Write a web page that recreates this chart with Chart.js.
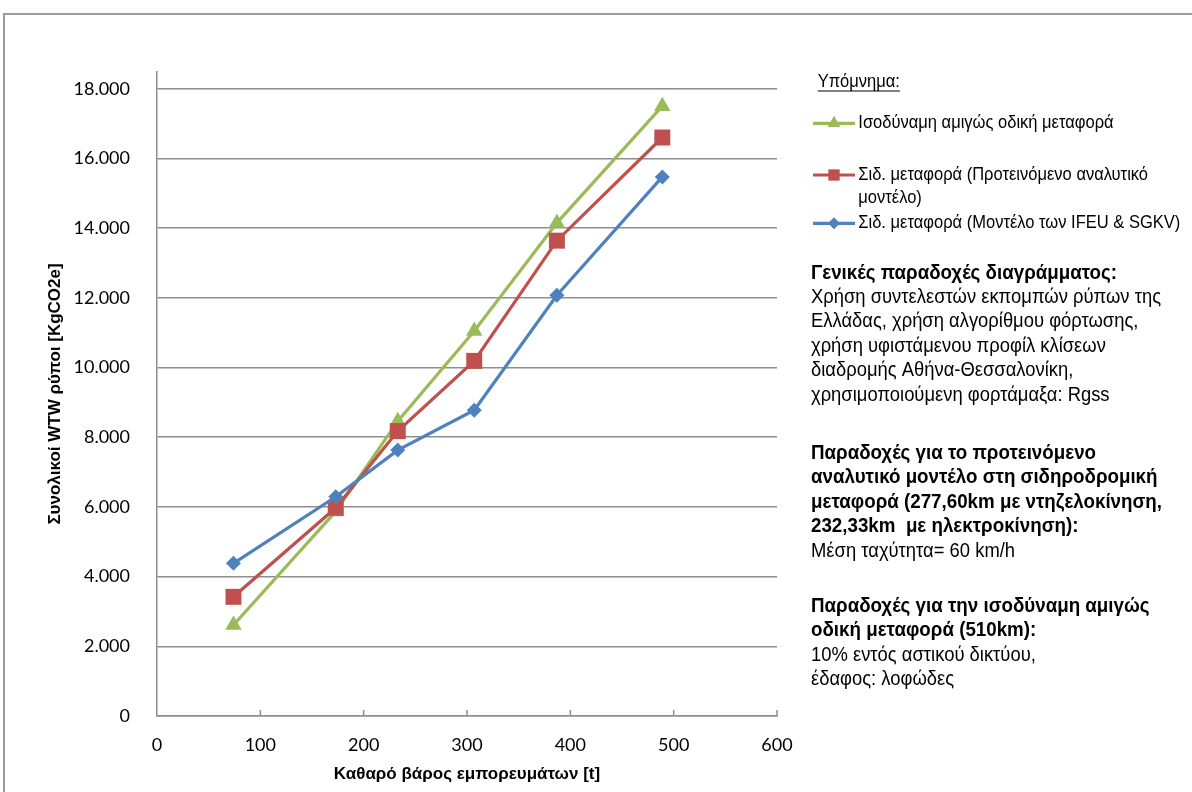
<!DOCTYPE html>
<html>
<head>
<meta charset="utf-8">
<script src="https://cdn.jsdelivr.net/npm/chart.js@4.4.1/dist/chart.umd.min.js"></script>
<style>
  html, body { margin: 0; padding: 0; background: #fff; }
  #wrap { position: relative; width: 1192px; height: 792px; overflow: hidden; }
  #frame { position: absolute; left: 3px; top: 13px; width: 1220px; height: 820px;
           border-top: 2px solid #9c9c9c; border-left: 2px solid #9c9c9c; }
  canvas { position: absolute; left: 0; top: 0; }
</style>
</head>
<body>
<div id="wrap">
  <div id="frame"></div>
  <canvas id="chart" width="1192" height="792"></canvas>
</div>
<script>
// Net cargo weight [t] for each train run
const netWeight = [74, 173, 233, 307, 387, 489];

// Total WTW emissions [KgCO2e]
const roadEquivalent = [2610, 5870, 8460, 11050, 14150, 17500];
const railProposed   = [3420, 5975, 8175, 10190, 13640, 16600];
const railIfeu       = [4380, 6290, 7630, 8775, 12075, 15470];

// Axis ticks
const xTickValues = [0, 100, 200, 300, 400, 500, 600];
const yTickValues = [0, 2000, 4000, 6000, 8000, 10000, 12000, 14000, 16000, 18000];

// Series names and how they wrap in the side legend
const seriesNames = [
  'Ισοδύναμη αμιγώς οδική μεταφορά',
  'Σιδ. μεταφορά (Προτεινόμενο αναλυτικό μοντέλο)',
  'Σιδ. μεταφορά (Μοντέλο των IFEU & SGKV)'
];
const legendLines = [
  ['Ισοδύναμη αμιγώς οδική μεταφορά'],
  ['Σιδ. μεταφορά (Προτεινόμενο αναλυτικό', 'μοντέλο)'],
  ['Σιδ. μεταφορά (Μοντέλο των IFEU & SGKV)']
];
const legendTitle = 'Υπόμνημα:';

// Notes printed under the legend
const noteBlocks = [
  { heading: ['Γενικές παραδοχές διαγράμματος:'],
    body: ['Χρήση συντελεστών εκπομπών ρύπων της',
           'Ελλάδας, χρήση αλγορίθμου φόρτωσης,',
           'χρήση υφιστάμενου προφίλ κλίσεων',
           'διαδρομής Αθήνα-Θεσσαλονίκη,',
           'χρησιμοποιούμενη φορτάμαξα: Rgss'] },
  { heading: ['Παραδοχές για το προτεινόμενο',
              'αναλυτικό μοντέλο στη σιδηροδρομική',
              'μεταφορά (277,60km με ντηζελοκίνηση,',
              '232,33km  με ηλεκτροκίνηση):'],
    body: ['Μέση ταχύτητα= 60 km/h'] },
  { heading: ['Παραδοχές για την ισοδύναμη αμιγώς',
              'οδική μεταφορά (510km):'],
    body: ['10% εντός αστικού δικτύου,',
           'έδαφος: λοφώδες'] }
];

// ---- layout of the side panel (px) ----
const PANEL_X = 811;
const legendRowY = [123.3, 175, 223.3];
const legendLineStep = 23.3;
const noteTopY = [273, 453.5, 606.5];
const noteLineStep = 24.4;
// horizontal condensing of the side text: one reference line and its drawn width per style
const legendFit = { line: legendLines[2][0], width: 322 };
const noteBodyFit = { line: noteBlocks[0].body[0], width: 350 };
const noteHeadFit = { line: noteBlocks[1].heading[2], width: 351 };

const SIDE_FONT = '"Liberation Sans", Arial, sans-serif';
const LEGEND_FONT = '18px ' + SIDE_FONT;
const NOTE_FONT = '20px ' + SIDE_FONT;
const NOTE_BOLD = 'bold 20px ' + SIDE_FONT;
const GRID = '#8e8e8e';

function squeezeFor(ctx, font, fit) {
  ctx.font = font;
  return fit.width / ctx.measureText(fit.line).width;
}

// Draws a line of text with a horizontal scale factor
function drawScaled(ctx, text, x, y, sx) {
  ctx.save();
  ctx.translate(x, y);
  ctx.scale(sx, 1);
  ctx.fillText(text, 0, 0);
  ctx.restore();
}

function drawMarker(ctx, style, x, y, r, color) {
  ctx.save();
  ctx.fillStyle = color;
  ctx.beginPath();
  if (style === 'triangle') {
    ctx.moveTo(x, y - r);
    ctx.lineTo(x + r * 0.866, y + r * 0.5);
    ctx.lineTo(x - r * 0.866, y + r * 0.5);
  } else if (style === 'rect') {
    const s = r * Math.SQRT1_2;
    ctx.rect(x - s, y - s, 2 * s, 2 * s);
  } else {
    ctx.moveTo(x, y - r);
    ctx.lineTo(x + r, y);
    ctx.lineTo(x, y + r);
    ctx.lineTo(x - r, y);
  }
  ctx.closePath();
  ctx.fill();
  ctx.restore();
}

const seriesStyles = [
  { color: '#9BBB59', pointStyle: 'triangle', radius: 9.5, legendRadius: 7.5 },
  { color: '#C0504D', pointStyle: 'rect', radius: 11.3, legendRadius: 8 },
  { color: '#4F81BD', pointStyle: 'rectRot', radius: 7.5, legendRadius: 6 }
];
const seriesValues = [roadEquivalent, railProposed, railIfeu];

const datasets = seriesValues.map((vals, i) => ({
  label: seriesNames[i],
  data: netWeight.map((x, k) => ({ x: x, y: vals[k] })),
  showLine: true,
  borderColor: seriesStyles[i].color,
  backgroundColor: seriesStyles[i].color,
  borderWidth: 3.2,
  pointStyle: seriesStyles[i].pointStyle,
  pointRadius: seriesStyles[i].radius,
  pointBorderWidth: 0,
  pointBackgroundColor: seriesStyles[i].color,
  order: 3 - i
}));

// Side legend, notes and the inward x-axis tick marks
const sidePanel = {
  id: 'sidePanel',
  beforeDatasetsDraw(chart) {
    const ctx = chart.ctx;
    const xs = chart.scales.x;
    const bottom = chart.chartArea.bottom;
    ctx.save();
    ctx.strokeStyle = GRID;
    ctx.lineWidth = 1.5;
    xTickValues.slice(1).forEach(v => {
      const px = xs.getPixelForValue(v);
      ctx.beginPath();
      ctx.moveTo(px, bottom);
      ctx.lineTo(px, bottom - 6);
      ctx.stroke();
    });
    ctx.restore();
  },
  afterDraw(chart) {
    const ctx = chart.ctx;
    ctx.save();
    ctx.fillStyle = '#000';
    ctx.textAlign = 'left';
    ctx.textBaseline = 'middle';

    const legendSx = squeezeFor(ctx, LEGEND_FONT, legendFit);
    const bodySx = squeezeFor(ctx, NOTE_FONT, noteBodyFit);
    const headSx = squeezeFor(ctx, NOTE_BOLD, noteHeadFit);

    // legend title, underlined
    ctx.font = LEGEND_FONT;
    const titleW = ctx.measureText(legendTitle).width * legendSx;
    drawScaled(ctx, legendTitle, 817.7, 81.7, legendSx);
    ctx.strokeStyle = '#000';
    ctx.lineWidth = 1.2;
    ctx.beginPath();
    ctx.moveTo(817.7, 91);
    ctx.lineTo(817.7 + titleW, 91);
    ctx.stroke();

    // legend entries
    chart.data.datasets.forEach((ds, i) => {
      const y = legendRowY[i];
      const st = seriesStyles[i];
      ctx.strokeStyle = ds.borderColor;
      ctx.lineWidth = 3.2;
      ctx.beginPath();
      ctx.moveTo(813, y);
      ctx.lineTo(855, y);
      ctx.stroke();
      drawMarker(ctx, ds.pointStyle, 834, y, st.legendRadius, ds.borderColor);
      ctx.fillStyle = '#000';
      ctx.font = LEGEND_FONT;
      legendLines[i].forEach((line, k) => {
        drawScaled(ctx, line, 858.3, y + k * legendLineStep, legendSx);
      });
    });

    // notes
    noteBlocks.forEach((block, b) => {
      let y = noteTopY[b];
      ctx.font = NOTE_BOLD;
      block.heading.forEach(line => {
        drawScaled(ctx, line, PANEL_X, y, headSx);
        y += noteLineStep;
      });
      ctx.font = NOTE_FONT;
      block.body.forEach(line => {
        drawScaled(ctx, line, PANEL_X, y, bodySx);
        y += noteLineStep;
      });
    });
    ctx.restore();
  }
};

function thousands(v) {
  return String(v).replace(/\B(?=(\d{3})+(?!\d))/g, '.');
}

new Chart(document.getElementById('chart'), {
  type: 'scatter',
  data: { datasets: datasets },
  plugins: [sidePanel],
  options: {
    responsive: false,
    animation: false,
    events: [],
    layout: { padding: { left: 0, top: 72, right: 415, bottom: 0 } },
    plugins: { legend: { display: false }, tooltip: { enabled: false } },
    scales: {
      x: {
        type: 'linear',
        min: 0,
        max: 600,
        afterBuildTicks: s => { s.ticks = xTickValues.map(v => ({ value: v })); },
        afterFit: s => { s.height = 76; },
        grid: { display: false, drawTicks: false },
        border: { display: true, color: GRID, width: 1.5 },
        ticks: { color: '#000', padding: 18, font: { family: 'Lato', size: 18 }, maxRotation: 0 },
        title: {
          display: true,
          text: 'Καθαρό βάρος εμπορευμάτων [t]',
          color: '#000',
          font: { family: SIDE_FONT, size: 17, weight: 'bold' },
          padding: { top: 0, bottom: 7 }
        }
      },
      y: {
        type: 'linear',
        min: 0,
        max: 18480,
        afterBuildTicks: s => { s.ticks = yTickValues.map(v => ({ value: v })); },
        afterFit: s => { s.width = 157; },
        grid: { color: GRID, lineWidth: 1.5, drawTicks: false },
        border: { display: true, color: GRID, width: 1.5 },
        ticks: {
          color: '#000',
          padding: 27,
          font: { family: 'Lato', size: 18 },
          callback: v => thousands(v)
        },
        title: {
          display: true,
          text: 'Συνολικοί WTW ρύποι [KgCO2e]',
          color: '#000',
          font: { family: SIDE_FONT, size: 17, weight: 'bold' },
          padding: { top: 45, bottom: 0 }
        }
      }
    }
  }
});
</script>
</body>
</html>
